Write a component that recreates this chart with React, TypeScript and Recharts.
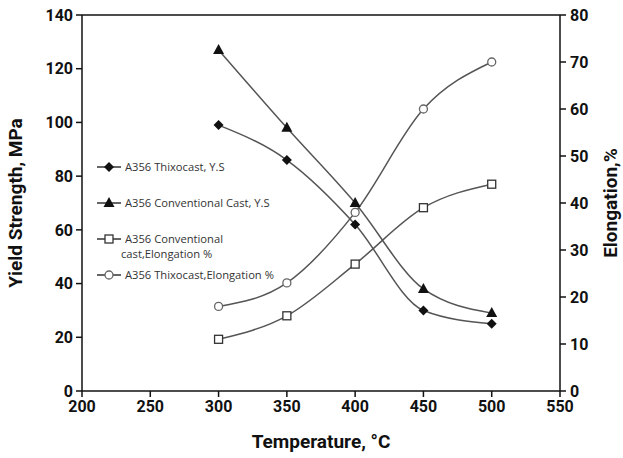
import {
  LineChart,
  Line,
  XAxis,
  YAxis,
  ReferenceLine,
} from "recharts";

const temps = [300, 350, 400, 450, 500];
const thixoYS = [99, 86, 62, 30, 25];
const convYS = [127, 98, 70, 38, 29];
const convElong = [11, 16, 27, 39, 44];
const thixoElong = [18, 23, 38, 60, 70];

const xTicks = [200, 250, 300, 350, 400, 450, 500, 550];
const leftTicks = [0, 20, 40, 60, 80, 100, 120, 140];
const rightTicks = [0, 10, 20, 30, 40, 50, 60, 70, 80];

const data = temps.map((t, i) => ({
  t,
  thixoYS: thixoYS[i],
  convYS: convYS[i],
  convElong: convElong[i],
  thixoElong: thixoElong[i],
}));

const LINE = "#555";
const AXIS_FONT = "Roboto, 'Liberation Sans', Arial, sans-serif";

type Shape = "diamond" | "triangle" | "square" | "circle";

function Marker({ cx, cy, shape }: { cx: number; cy: number; shape: Shape }) {
  if (cx == null || cy == null) return null;
  if (shape === "diamond")
    return (
      <path
        d={`M${cx},${cy - 5} L${cx + 5},${cy} L${cx},${cy + 5} L${cx - 5},${cy} Z`}
        fill="#111"
      />
    );
  if (shape === "triangle")
    return (
      <path
        d={`M${cx},${cy - 6} L${cx + 5.5},${cy + 4} L${cx - 5.5},${cy + 4} Z`}
        fill="#111"
      />
    );
  if (shape === "square")
    return (
      <rect x={cx - 4} y={cy - 4} width={8} height={8} fill="#fff" stroke="#333" strokeWidth={1.3} />
    );
  return <circle cx={cx} cy={cy} r={4} fill="#fff" stroke="#666" strokeWidth={1.3} />;
}

const legendItems: { label: string[]; shape: Shape; top: number }[] = [
  { label: ["A356 Thixocast, Y.S"], shape: "diamond", top: 0 },
  { label: ["A356 Conventional Cast, Y.S"], shape: "triangle", top: 36 },
  { label: ["A356 Conventional", "cast,Elongation %"], shape: "square", top: 72 },
  { label: ["A356 Thixocast,Elongation %"], shape: "circle", top: 108 },
];

function LegendBox() {
  return (
    <div style={{ position: "absolute", left: 97, top: 161, width: 200, height: 130 }}>
      {legendItems.map((it) => (
        <div key={it.shape} style={{ position: "absolute", left: 0, top: it.top }}>
          <svg width={26} height={12} style={{ position: "absolute", left: 0, top: 0 }}>
            <line x1={0} y1={6} x2={24} y2={6} stroke="#333" strokeWidth={1.5} />
            <Marker cx={12} cy={6} shape={it.shape} />
          </svg>
          <div
            style={{
              position: "absolute",
              left: 28,
              top: -2,
              whiteSpace: "nowrap",
              fontFamily: "'Open Sans', sans-serif",
              fontSize: 11.2,
              lineHeight: "15px",
              color: "#333",
            }}
          >
            {it.label.map((l, i) => (
              <div key={i} style={{ marginLeft: i > 0 ? -4 : 0 }}>
                {l}
              </div>
            ))}
          </div>
        </div>
      ))}
    </div>
  );
}

const tickStyle = { fontFamily: AXIS_FONT, fontWeight: 700, fontSize: 16, fill: "#111" };
const titleStyle = { ...tickStyle, fontSize: 19 };

export default function App() {
  return (
    <div style={{ position: "relative", width: 623, height: 458, background: "#fff" }}>
      <style>{`body{margin:0}`}</style>
      <LineChart
        width={623}
        height={458}
        data={data}
        margin={{ top: 15, right: 0, bottom: 0, left: 0 }}
      >
        <ReferenceLine yAxisId="left" y={140} stroke="#111" strokeWidth={1.5} />
        <XAxis
          dataKey="t"
          type="number"
          domain={[200, 550]}
          ticks={xTicks}
          height={67}
          stroke="#111"
          strokeWidth={1.5}
          tickSize={6}
          tick={tickStyle}
          tickMargin={4}
          label={{
            value: "Temperature, °C",
            position: "insideBottom",
            offset: 10,
            style: titleStyle,
          }}
        />
        <YAxis
          yAxisId="left"
          domain={[0, 140]}
          ticks={leftTicks}
          width={82}
          stroke="#111"
          strokeWidth={1.5}
          tickSize={6}
          tick={tickStyle}
          tickMargin={3}
          label={{
            value: "Yield Strength, MPa",
            angle: -90,
            position: "insideLeft",
            offset: 15,
            style: { ...titleStyle, textAnchor: "middle" },
          }}
        />
        <YAxis
          yAxisId="right"
          orientation="right"
          domain={[0, 80]}
          ticks={rightTicks}
          width={63}
          stroke="#111"
          strokeWidth={1.5}
          tickSize={6}
          tick={tickStyle}
          tickMargin={4}
          label={{
            value: "Elongation,%",
            angle: -90,
            position: "insideRight",
            offset: 13,
            style: { ...titleStyle, textAnchor: "middle" },
          }}
        />
        <Line
          yAxisId="left"
          dataKey="thixoYS"
          type="monotone"
          stroke={LINE}
          strokeWidth={1.5}
          isAnimationActive={false}
          dot={(p: any) => <Marker key={`a${p.index}`} cx={p.cx} cy={p.cy} shape="diamond" />}
        />
        <Line
          yAxisId="left"
          dataKey="convYS"
          type="monotone"
          stroke={LINE}
          strokeWidth={1.5}
          isAnimationActive={false}
          dot={(p: any) => <Marker key={`b${p.index}`} cx={p.cx} cy={p.cy} shape="triangle" />}
        />
        <Line
          yAxisId="right"
          dataKey="convElong"
          type="monotone"
          stroke={LINE}
          strokeWidth={1.5}
          isAnimationActive={false}
          dot={(p: any) => <Marker key={`c${p.index}`} cx={p.cx} cy={p.cy} shape="square" />}
        />
        <Line
          yAxisId="right"
          dataKey="thixoElong"
          type="monotone"
          stroke={LINE}
          strokeWidth={1.5}
          isAnimationActive={false}
          dot={(p: any) => <Marker key={`d${p.index}`} cx={p.cx} cy={p.cy} shape="circle" />}
        />
      </LineChart>
      <LegendBox />
    </div>
  );
}
